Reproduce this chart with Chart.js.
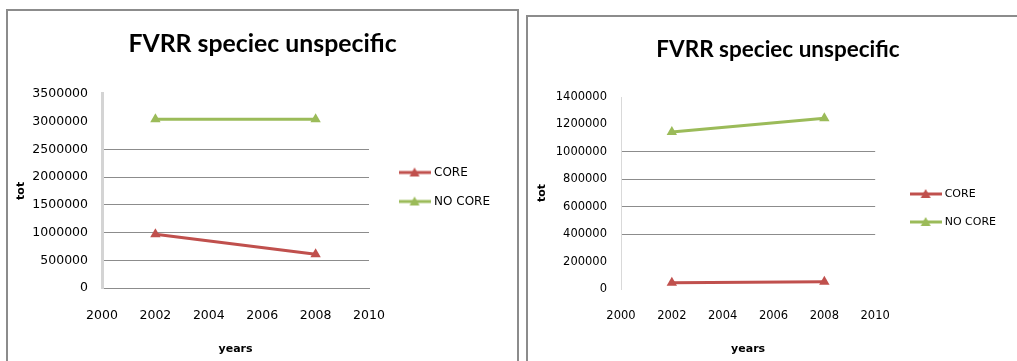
<!DOCTYPE html>
<html>
<head>
<meta charset="utf-8">
<script src="https://cdn.jsdelivr.net/npm/chart.js@4/dist/chart.umd.min.js"></script>
<style>
    html, body { margin: 0; padding: 0; background: #fff; overflow: hidden; width: 1017px; height: 361px; }
    .box { position: absolute; border: 2px solid #8c8c8c; border-bottom: none; background: #fff; }
    #box1 { left: 6px; top: 9px; width: 509px; height: 360px; }
    #box2 { left: 526px; top: 15px; width: 520px; height: 360px; }
    canvas { position: absolute; left: 0; top: 0; }
</style>
</head>
<body>
<div class="box" id="box1"><canvas id="chartLeft" width="507" height="350"></canvas></div>
<div class="box" id="box2"><canvas id="chartRight" width="498" height="344"></canvas></div>
<script>
// data
const years = [2002, 2008];
const xTicks = [2000, 2002, 2004, 2006, 2008, 2010];
const seriesNames = ['CORE', 'NO CORE'];
const coreLeft = [970000, 610000];
const noCoreLeft = [3040000, 3040000];
const coreRight = [46000, 52000];
const noCoreRight = [1145000, 1245000];
const chartTitle = 'FVRR speciec unspecific';

const RED = '#c0504d';
const GREEN = '#9bbb59';

// legend marker: short line with a triangle in the middle
function legendMarker(color) {
    const c = document.createElement('canvas');
    c.width = 32;
    c.height = 12;
    const g = c.getContext('2d');
    g.strokeStyle = color;
    g.lineWidth = 3;
    g.beginPath();
    g.moveTo(0, 6);
    g.lineTo(32, 6);
    g.stroke();
    g.fillStyle = color;
    g.beginPath();
    g.moveTo(16, 1);
    g.lineTo(21, 10);
    g.lineTo(11, 10);
    g.closePath();
    g.fill();
    return c;
}

function toPoints(ys) {
    return years.map((x, i) => ({ x: x, y: ys[i] }));
}

// nudge title and legend after layout so the plot area stays where it is
const nudge = {
    id: 'nudge',
    afterLayout(chart, args, opts) {
        const t = chart.titleBlock;
        if (t) { t.left += opts.titleDx; t.right += opts.titleDx; }
        const lg = chart.legend;
        if (lg) {
            lg.left += opts.legendDx; lg.right += opts.legendDx;
            lg.top += opts.legendDy; lg.bottom += opts.legendDy;
        }
    }
};

function makeChart(id, o) {
    const ctx = document.getElementById(id).getContext('2d');
    const markers = [legendMarker(RED), legendMarker(GREEN)];
    return new Chart(ctx, {
        type: 'line',
        data: {
            datasets: [
                { label: seriesNames[0], data: toPoints(o.core), borderColor: RED, backgroundColor: RED },
                { label: seriesNames[1], data: toPoints(o.noCore), borderColor: GREEN, backgroundColor: GREEN }
            ]
        },
        plugins: [nudge],
        options: {
            responsive: false,
            animation: false,
            layout: { padding: { left: 0, right: o.padRight, top: 0, bottom: 0 } },
            elements: {
                line: { borderWidth: 3, tension: 0 },
                point: { pointStyle: 'triangle', radius: 6, hoverRadius: 6, borderWidth: 0 }
            },
            plugins: {
                nudge: { titleDx: o.titleDx, legendDx: o.legendDx, legendDy: o.legendDy },
                tooltip: { enabled: false },
                title: {
                    display: true,
                    text: chartTitle,
                    color: '#000',
                    font: { family: 'Lato', weight: 'bold', size: o.titleSize },
                    padding: { top: o.titleTop, bottom: o.titleBottom }
                },
                legend: {
                    position: 'right',
                    labels: {
                        color: '#000',
                        font: { family: 'DejaVu Sans', size: o.legendSize },
                        usePointStyle: true,
                        pointStyleWidth: 27,
                        padding: 17,
                        generateLabels: (chart) => {
                            const items = Chart.defaults.plugins.legend.labels.generateLabels(chart);
                            items.forEach((it, i) => { it.pointStyle = markers[i]; });
                            return items;
                        }
                    }
                }
            },
            scales: {
                x: {
                    type: 'linear',
                    min: xTicks[0],
                    max: xTicks[xTicks.length - 1],
                    afterBuildTicks: (scale) => { scale.ticks = xTicks.map(v => ({ value: v })); },
                    afterFit: (scale) => { scale.height = o.xHeight; },
                    grid: { display: true, drawOnChartArea: false, drawTicks: false, color: 'rgba(0,0,0,0)' },
                    border: { display: o.xBorder, color: '#8c8c8c', width: 1 },
                    ticks: {
                        color: '#000',
                        padding: 20,
                        font: { family: 'DejaVu Sans', size: o.tickSize },
                        callback: (v) => String(v)
                    },
                    title: {
                        display: true,
                        text: 'years',
                        color: '#000',
                        font: { family: 'DejaVu Sans', weight: 'bold', size: 11 },
                        padding: { top: 0, bottom: 5 }
                    }
                },
                y: {
                    min: 0,
                    max: o.yMax,
                    ticks: {
                        stepSize: o.yStep,
                        color: '#000',
                        padding: 14,
                        font: { family: 'DejaVu Sans', size: o.tickSize },
                        callback: (v) => String(v)
                    },
                    afterFit: (scale) => { scale.width = o.yWidth; },
                    grid: {
                        drawTicks: false,
                        color: (c) => (c.tick && c.tick.value >= o.gridFrom && c.tick.value <= o.gridTo) ? '#8c8c8c' : 'rgba(0,0,0,0)'
                    },
                    border: { color: o.yBorderColor, width: o.yBorderWidth },
                    title: {
                        display: true,
                        text: 'tot',
                        color: '#000',
                        font: { family: 'DejaVu Sans', weight: 'bold', size: 11 },
                        padding: { top: o.totPad, bottom: 0 }
                    }
                }
            }
        }
    });
}

makeChart('chartLeft', {
    core: coreLeft, noCore: noCoreLeft,
    yMax: 3500000, yStep: 500000, gridFrom: 500000, gridTo: 2500000,
    titleSize: 24.8, titleTop: 18, titleBottom: 35,
    tickSize: 12.5, legendSize: 12,
    xHeight: 73, yWidth: 94, totPad: 7, padRight: 30,
    titleDx: 16, legendDx: 15, legendDy: 1,
    xBorder: true, yBorderColor: '#d4d4d4', yBorderWidth: 3
});

makeChart('chartRight', {
    core: coreRight, noCore: noCoreRight,
    yMax: 1400000, yStep: 200000, gridFrom: 400000, gridTo: 1000000,
    titleSize: 22.5, titleTop: 19, titleBottom: 34,
    tickSize: 11.5, legendSize: 11,
    xHeight: 72, yWidth: 93, totPad: 8, padRight: 40,
    titleDx: 21, legendDx: 20, legendDy: 19,
    xBorder: false, yBorderColor: '#d9d9d9', yBorderWidth: 1
});
</script>
</body>
</html>
